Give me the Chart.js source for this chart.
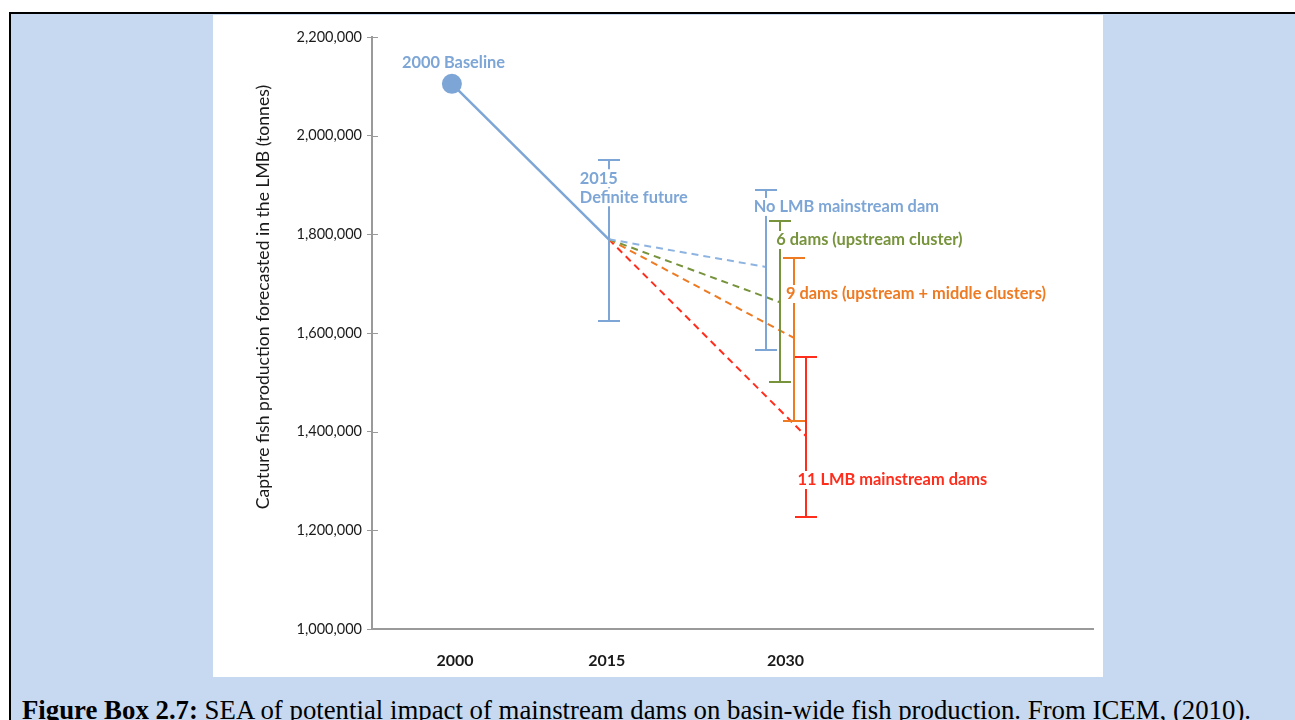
<!DOCTYPE html>
<html>
<head>
<meta charset="utf-8">
<script src="https://cdn.jsdelivr.net/npm/chart.js@4.4.1/dist/chart.umd.min.js"></script>
<style>
  html, body { margin: 0; padding: 0; background: #fff; }
  #page { position: relative; width: 1295px; height: 720px; overflow: hidden; background: #fff; }
  #frame { position: absolute; left: 9px; top: 12px; right: 0; bottom: 0; background: #c6d9f1;
           border-top: 2px solid #000; border-left: 2px solid #000; }
  #panel { position: absolute; left: 213px; top: 15px; width: 890px; height: 662px; background: #fff; }
  #caption { position: absolute; left: 22px; top: 697px; font-family: "Liberation Serif", "Times New Roman", serif;
             font-size: 26.8px; line-height: 27px; color: #000; white-space: nowrap; }
</style>
</head>
<body>
<div id="page">
  <div id="frame"></div>
  <div id="panel"><canvas id="chart" width="890" height="662"></canvas></div>
  <div id="caption"><b>Figure Box 2.7:</b> SEA of potential impact of mainstream dams on basin-wide fish production. From ICEM, (2010).</div>
</div>
<script>
  // Beobachtete Reihe: Basisjahr 2000 und "Definite future" 2015.
  const years = [2000, 2015];
  const production = [2105000, 1790000];
  const definiteRange = [1625000, 1950000];

  // Szenarien 2030 (leicht versetzt, damit die Fehlerbalken nebeneinander stehen).
  const scenarioNames = [
    'No LMB mainstream dam',
    '6 dams (upstream cluster)',
    '9 dams (upstream + middle clusters)',
    '11 LMB mainstream dams',
  ];
  const scenarioX = [2030, 2031.4, 2032.7, 2033.9];
  const scenarioMid = [1734000, 1662000, 1590000, 1390000];
  const scenarioLow = [1565000, 1500000, 1421000, 1227000];
  const scenarioHigh = [1890000, 1827000, 1752000, 1551000];

  const xTickLabels = ['2000', '2015', '2030'];
  const xTickPos = [2000.3, 2014.8, 2031.9];

  const BLUE = '#7da6d6';
  const BLUE_DASH = '#8db3e1';
  const GREEN = '#77933c';
  const ORANGE = '#ee7a22';
  const RED = '#ff2d1c';
  const AXIS = '#9a9a9a';
  const INK = '#1a1a1a';
  const FONT = 'Lato, "Open Sans", sans-serif';
  const scenarioColors = [BLUE, GREEN, ORANGE, RED];
  const dashColors = [BLUE_DASH, GREEN, ORANGE, RED];

  const scenarioLines = scenarioNames.map((name, i) => ({
    label: name,
    data: [{ x: years[1], y: production[1] }, { x: scenarioX[i], y: scenarioMid[i] }],
    borderColor: dashColors[i],
    borderWidth: 2,
    borderDash: [7, 5],
    pointRadius: 0,
    order: 2,
  }));

  // Fehlerbalken, Tick-Kreuze, Beschriftungen mit weissem Hintergrund, y-Titel.
  const overlay = {
    id: 'overlay',
    afterDatasetsDraw(chart) {
      const { ctx, scales: { x, y } } = chart;
      ctx.save();

      ctx.strokeStyle = AXIS;
      ctx.lineWidth = 1;
      y.ticks.forEach((t) => {
        const py = Math.round(y.getPixelForValue(t.value)) + 0.5;
        ctx.beginPath();
        ctx.moveTo(x.left, py);
        ctx.lineTo(x.left + 6, py);
        ctx.stroke();
      });

      const bars = [{ x: years[1], lo: definiteRange[0], hi: definiteRange[1], color: BLUE }].concat(
        scenarioNames.map((n, i) => ({ x: scenarioX[i], lo: scenarioLow[i], hi: scenarioHigh[i], color: scenarioColors[i] }))
      );
      ctx.lineWidth = 2;
      bars.forEach((b) => {
        const px = Math.round(x.getPixelForValue(b.x));
        const top = Math.round(y.getPixelForValue(b.hi));
        const bot = Math.round(y.getPixelForValue(b.lo));
        ctx.strokeStyle = b.color;
        ctx.beginPath();
        ctx.moveTo(px, top); ctx.lineTo(px, bot);
        ctx.moveTo(px - 11, top); ctx.lineTo(px + 11, top);
        ctx.moveTo(px - 11, bot); ctx.lineTo(px + 11, bot);
        ctx.stroke();
      });

      const notes = [
        { lines: ['2000 Baseline'], at: [years[0], production[0]], dx: -50, dy: -21, color: BLUE },
        { lines: ['2015', 'Definite future'], at: [years[1], production[1]], dx: -29, dy: -61, color: BLUE },
        { lines: [scenarioNames[0]], at: [scenarioX[0], scenarioHigh[0]], dx: -12, dy: 17, color: BLUE },
        { lines: [scenarioNames[1]], at: [scenarioX[1], scenarioHigh[1]], dx: -4, dy: 19, color: GREEN },
        { lines: [scenarioNames[2]], at: [scenarioX[2], scenarioHigh[2]], dx: -8, dy: 36, color: ORANGE },
        { lines: [scenarioNames[3]], at: [scenarioX[3], scenarioLow[3]], dx: -9, dy: -37, color: RED },
      ];
      ctx.font = 'bold 16.4px ' + FONT;
      ctx.textBaseline = 'middle';
      ctx.textAlign = 'left';
      notes.forEach((n) => {
        const ax = x.getPixelForValue(n.at[0]) + n.dx;
        let ay = y.getPixelForValue(n.at[1]) + n.dy;
        n.lines.forEach((line) => {
          const w = ctx.measureText(line).width;
          ctx.fillStyle = '#fff';
          ctx.fillRect(ax - 2, ay - 9, w + 4, 18);
          ctx.fillStyle = n.color;
          ctx.fillText(line, ax, ay);
          ay += 19;
        });
      });

      ctx.translate(x.left - 109, (y.top + y.bottom) / 2 - 36);
      ctx.rotate(-Math.PI / 2);
      ctx.textAlign = 'center';
      ctx.fillStyle = INK;
      ctx.font = '17.6px ' + FONT;
      ctx.fillText('Capture fish production forecasted in the LMB (tonnes)', 0, 0);
      ctx.restore();
    },
  };

  new Chart(document.getElementById('chart'), {
    type: 'line',
    data: {
      datasets: [
        {
          label: 'Baseline',
          data: years.map((yr, i) => ({ x: yr, y: production[i] })),
          borderColor: BLUE,
          backgroundColor: BLUE,
          borderWidth: 2.5,
          pointRadius: [10, 0],
          pointBorderWidth: 0,
          pointBackgroundColor: BLUE,
          order: 1,
        },
      ].concat(scenarioLines),
    },
    options: {
      responsive: false,
      animation: false,
      layout: { padding: { top: 22, right: 9, bottom: 0, left: 0 } },
      plugins: { legend: { display: false }, tooltip: { enabled: false } },
      scales: {
        x: {
          type: 'linear',
          min: 1992.36,
          max: 2061.3,
          afterBuildTicks: (scale) => { scale.ticks = xTickPos.map((v) => ({ value: v })); },
          afterFit: (scale) => { scale.height = 48; },
          grid: { display: false },
          border: { color: AXIS, width: 2 },
          ticks: {
            padding: 14,
            color: INK,
            font: { family: FONT, size: 16, weight: 'bold' },
            maxRotation: 0,
            callback: (value, index) => xTickLabels[index],
          },
        },
        y: {
          min: 1000000,
          max: 2200000,
          afterFit: (scale) => { scale.width = 159; },
          grid: { drawOnChartArea: false, drawTicks: true, tickLength: 5, color: AXIS },
          border: { color: AXIS, width: 2 },
          ticks: {
            stepSize: 200000,
            padding: 5,
            color: INK,
            font: { family: FONT, size: 14.5 },
            callback: (value) => value.toLocaleString('en-US'),
          },
        },
      },
    },
    plugins: [overlay],
  });
</script>
</body>
</html>
